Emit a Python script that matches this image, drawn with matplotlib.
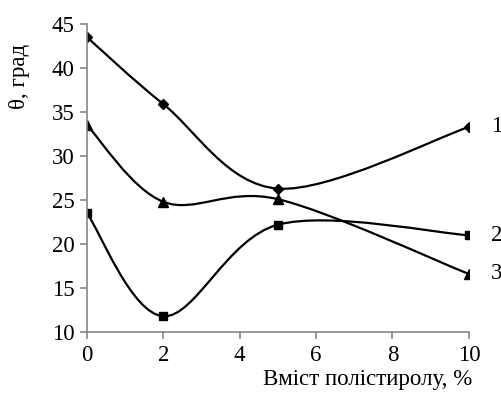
import numpy as np
import matplotlib.pyplot as plt
from matplotlib.path import Path
from matplotlib.patches import PathPatch

plt.rcParams['font.family'] = ['Liberation Serif', 'DejaVu Serif']

# дані
x = [0, 2, 5, 10]
s1 = [43.5, 35.9, 26.3, 33.3]
s2 = [23.5, 11.8, 22.2, 21.0]
s3 = [33.5, 24.8, 25.1, 16.6]
labels = ['1', '2', '3']
markers = ['D', 's', '^']
msizes = [5, 6, 7]


# згладжена лінія як в Excel (Catmull-Rom -> Bezier)
def smooth_path(xs, ys):
    pts = np.column_stack([xs, ys]).astype(float)
    n = len(pts)
    verts = [pts[0]]
    codes = [Path.MOVETO]
    for i in range(n - 1):
        p0 = pts[max(i - 1, 0)]
        p1 = pts[i]
        p2 = pts[i + 1]
        p3 = pts[min(i + 2, n - 1)]
        c1 = p1 + (p2 - p0) / 6
        c2 = p2 - (p3 - p1) / 6
        verts += [c1, c2, p2]
        codes += [Path.CURVE4] * 3
    return Path(verts, codes)


fs = 16.5
fig = plt.figure(figsize=(5.02, 4.03), dpi=100)
ax = fig.add_axes([0.1733, 0.176, 0.7607, 0.7644])

for ys, lab, m, ms in zip([s1, s2, s3], labels, markers, msizes):
    ax.add_patch(PathPatch(smooth_path(x, ys), fill=False, lw=1.6, color='black'))
    ax.plot(x, ys, linestyle='none', marker=m, markersize=ms, color='black')
    ax.annotate(lab, (x[-1], ys[-1]), xytext=(16, 0), textcoords='offset points',
                va='center', ha='left', fontsize=fs, annotation_clip=False)

ax.set_xlim(0, 10)
ax.set_ylim(10, 45)
ax.set_xticks([0, 2, 4, 6, 8, 10])
ax.set_yticks(range(10, 50, 5))
ax.spines['top'].set_visible(False)
ax.spines['right'].set_visible(False)
for sp in ['left', 'bottom']:
    ax.spines[sp].set_color('#868686')
    ax.spines[sp].set_linewidth(1.2)
ax.tick_params(direction='out', length=5, width=1.2, color='#868686', labelsize=fs, pad=4)

ax.set_xlabel('Вміст полістиролу, %', fontsize=fs, ha='right')
ax.xaxis.set_label_coords(1.01, -0.12)
ax.set_ylabel('θ, град', fontsize=fs)
ax.yaxis.set_label_coords(-0.15, 0.83)

plt.savefig('out.png', dpi=100)
